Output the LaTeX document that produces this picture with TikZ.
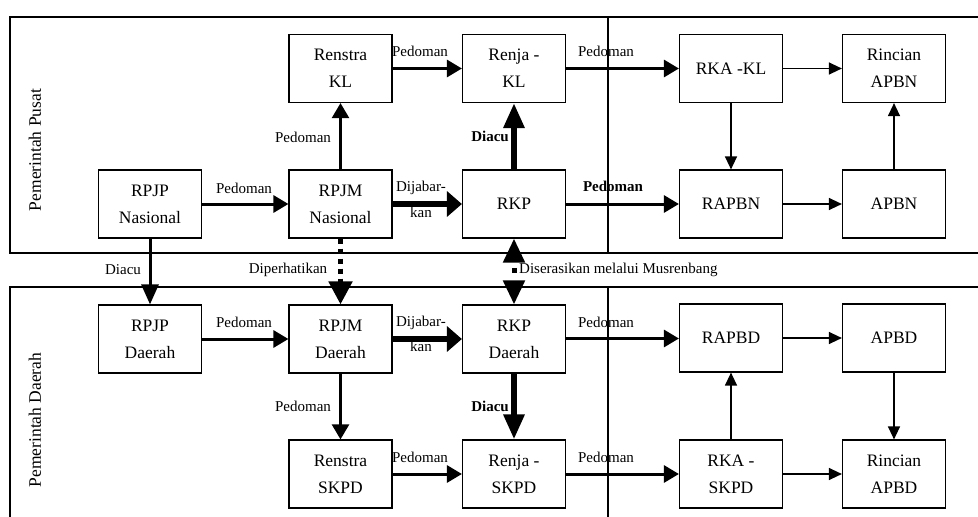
\documentclass[tikz,border=0pt]{standalone}
\usepackage{fontspec}
\setmainfont{Liberation Serif}
\usetikzlibrary{arrows.meta}
\tikzset{
  box/.style={draw, line width=1.2pt, minimum width=103pt, minimum height=68pt,
    align=center, inner sep=0pt, font=\fontsize{17.5}{27}\selectfont},
  lbl/.style={inner sep=0pt, font=\fontsize{15}{18}\selectfont},
  blbl/.style={inner sep=0pt, font=\fontsize{15}{18}\selectfont\bfseries},
  frame/.style={line width=1.5pt},
  medarr/.style={line width=3pt, -{Triangle[length=15pt,width=17pt]}},
  bigarr/.style={line width=6pt, -{Triangle[length=15pt,width=25pt]}},
  vbigarr/.style={line width=6pt, -{Triangle[length=25pt,width=20pt]}},
  thinarr/.style={line width=1.3pt, -{Triangle[length=13pt,width=12pt]}},
}
\begin{document}
\begin{tikzpicture}[x=1pt,y=-1pt]
\useasboundingbox (0,0) rectangle (978,517);
% frames
\draw[frame] (978,17) -- (10,17) -- (10,253) -- (978,253);
\draw[frame] (978,287) -- (10,287) -- (10,517);
\draw[line width=1.2pt] (608,17) -- (608,253);
\draw[line width=1.2pt] (608,287) -- (608,517);
% side titles
\node[rotate=90, inner sep=0pt, font=\fontsize{17.5}{20}\selectfont] (tpusat) at (35,150) {Pemerintah Pusat};
\node[rotate=90, inner sep=0pt, font=\fontsize{17.5}{20}\selectfont] (tdaerah) at (35,420) {Pemerintah Daerah};
% top boxes
\node[box] (RenstraKL) at (340.5,68.5) {Renstra\\KL};
\node[box] (RenjaKL) at (514,68.5) {Renja -\\KL};
\node[box] (RKAKL) at (731,68.5) {RKA -KL};
\node[box] (RincianAPBN) at (894,68.5) {Rincian\\APBN};
\node[box] (RPJPN) at (150,204) {RPJP\\Nasional};
\node[box] (RPJMN) at (340.5,204) {RPJM\\Nasional};
\node[box] (RKP) at (514,204) {RKP};
\node[box] (RAPBN) at (731,204) {RAPBN};
\node[box] (APBN) at (894,204) {APBN};
% bottom boxes
\node[box] (RPJPD) at (150,339) {RPJP\\Daerah};
\node[box] (RPJMD) at (340.5,339) {RPJM\\Daerah};
\node[box] (RKPD) at (514,339) {RKP\\Daerah};
\node[box] (RAPBD) at (731,338) {RAPBD};
\node[box] (APBD) at (894,338) {APBD};
\node[box] (RenstraSKPD) at (340.5,474) {Renstra\\SKPD};
\node[box] (RenjaSKPD) at (514,474) {Renja -\\SKPD};
\node[box] (RKASKPD) at (731,474) {RKA -\\SKPD};
\node[box] (RincianAPBD) at (894,474) {Rincian\\APBD};
% top arrows
\draw[medarr] (RenstraKL) -- (RenjaKL);
\draw[medarr] (RenjaKL) -- (RKAKL);
\draw[thinarr] (RKAKL) -- (RincianAPBN);
\draw[thinarr] (RKAKL) -- (RAPBN);
\draw[thinarr] (APBN) -- (RincianAPBN);
\draw[thinarr] (RAPBN) -- (APBN);
\draw[medarr] (RKP) -- (RAPBN);
\draw[vbigarr] (RKP) -- (RenjaKL);
\draw[line width=2.5pt, -{Triangle[length=15pt,width=17pt]}] (RPJMN) -- (RenstraKL);
\draw[medarr] (RPJPN) -- (RPJMN);
\draw[bigarr] (RPJMN) -- (RKP);
% between
\draw[line width=3pt, -{Triangle[length=20pt,width=17pt]}] (RPJPN) -- (RPJPD);
\draw[line width=5pt, dash pattern=on 5pt off 5pt, -{Triangle[length=23pt,width=23pt]}] (RPJMN) -- (RPJMD);
\draw[line width=5pt, dash pattern=on 0pt off 6.5pt on 5pt off 30pt,
  {Triangle[length=24pt,width=21pt]}-{Triangle[length=24pt,width=21pt]}] (RKP) -- (RKPD);
% bottom arrows
\draw[medarr] (RPJPD) -- (RPJMD);
\draw[bigarr] (RPJMD) -- (RKPD);
\draw[medarr] (RKPD.east |- 0,338.5) -- (RAPBD.west |- 0,338.5);
\draw[line width=2.5pt, -{Triangle[length=15pt,width=17pt]}] (RPJMD) -- (RenstraSKPD);
\draw[vbigarr] (RKPD) -- (RenjaSKPD);
\draw[medarr] (RenstraSKPD) -- (RenjaSKPD);
\draw[medarr] (RenjaSKPD) -- (RKASKPD);
\draw[thinarr] (RKASKPD) -- (RAPBD);
\draw[thinarr] (RAPBD) -- (APBD);
\draw[thinarr] (APBD) -- (RincianAPBD);
\draw[thinarr] (RKASKPD) -- (RincianAPBD);
% labels
\node[lbl] (l1) at (420,51) {Pedoman};
\node[lbl] (l2) at (606,51) {Pedoman};
\node[lbl] (l3) at (303,137) {Pedoman};
\node[blbl] (l4) at (490,136) {Diacu};
\node[lbl] (l5) at (244,188) {Pedoman};
\node[lbl] (l6) at (421,188) {Dijabar-};
\node[lbl] (l7) at (421,212) {kan};
\node[blbl] (l8) at (613,186) {Pedoman};
\node[lbl] (l9) at (123,270) {Diacu};
\node[lbl] (l10) at (288,270) {Diperhatikan};
\node[lbl, anchor=west] (l11) at (519,270) {Diserasikan melalui Musrenbang};
\node[lbl] (l12) at (244,322) {Pedoman};
\node[lbl] (l13) at (421,323) {Dijabar-};
\node[lbl] (l14) at (421,346) {kan};
\node[lbl] (l15) at (606,322) {Pedoman};
\node[lbl] (l16) at (303,406) {Pedoman};
\node[blbl] (l17) at (490,406) {Diacu};
\node[lbl] (l18) at (420,457) {Pedoman};
\node[lbl] (l19) at (606,457) {Pedoman};
\end{tikzpicture}
\end{document}
